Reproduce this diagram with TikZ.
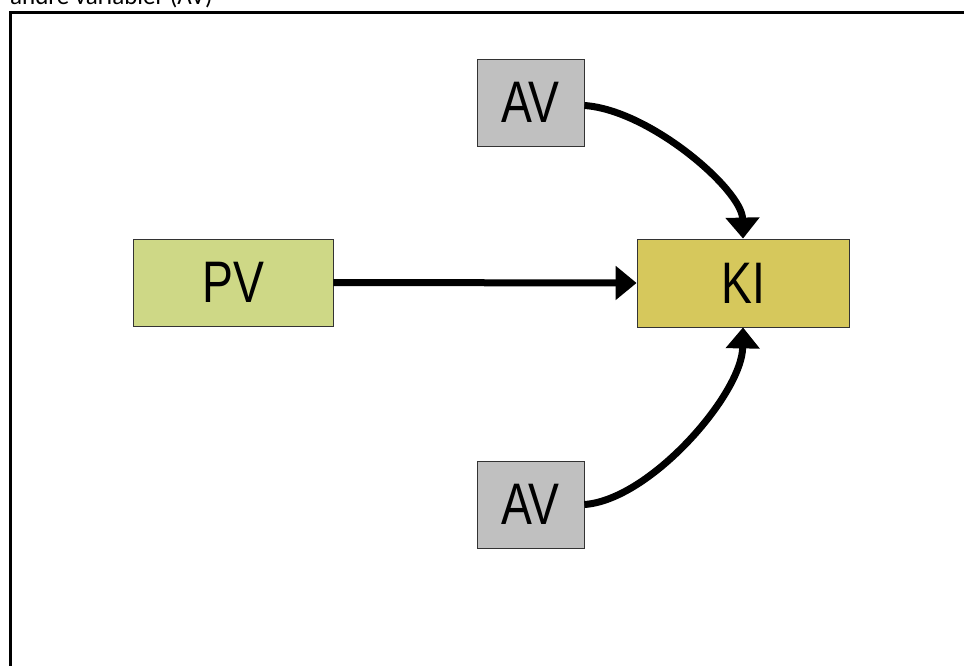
\documentclass[tikz,border=0pt]{standalone}
\usepackage{fontspec}
\setmainfont{Liberation Sans}
\newfontfamily\captionfont{Carlito}
\usetikzlibrary{arrows.meta}
\definecolor{avgray}{RGB}{192,192,192}
\definecolor{pvgreen}{RGB}{206,216,134}
\definecolor{kiyellow}{RGB}{214,200,92}
\tikzset{
  varbox/.style={draw=black!80, line width=0.8pt, inner sep=0pt,
    minimum height=87pt, font=\fontsize{58.6}{60}\selectfont},
  conn/.style={line width=7pt, -{Triangle[length=21pt,width=33pt]}},
}
\newcommand{\narrow}[1]{\scalebox{0.79}[1]{#1}}
\begin{document}
\begin{tikzpicture}[x=1pt,y=-1pt]
  \useasboundingbox (0,0) rectangle (964,666);
  \clip (0,0) rectangle (964,666);
  % heading line, partly cut off at the top edge
  \node[anchor=base west, inner sep=0pt, font=\captionfont\fontsize{25}{27}\selectfont]
    (heading) at (10,5) {andre variabler (AV)};
  % outer frame
  \draw[line width=2.5pt] (10.5,700) -- (10.5,12.5) -- (990,12.5);
  % variable boxes
  \node[varbox, fill=avgray, minimum width=107pt] (avt) at (530.5,102.5) {\narrow{AV}};
  \node[varbox, fill=pvgreen, minimum width=200pt] (pv) at (233,282.5) {\narrow{PV}};
  \node[varbox, fill=kiyellow, minimum width=212pt, minimum height=88pt] (ki) at (743,283) {\narrow{KI}};
  \node[varbox, fill=avgray, minimum width=107pt] (avb) at (530.5,504.5) {\narrow{AV}};
  % connectors
  \draw[conn] (pv.east) -- (ki.west);
  \draw[conn] ([yshift=-3pt]avt.east) .. controls (650,110) and (742,190) .. (ki.north);
  \draw[conn] (avb.east) .. controls (650,500) and (742,394) .. (ki.south);
\end{tikzpicture}
\end{document}
